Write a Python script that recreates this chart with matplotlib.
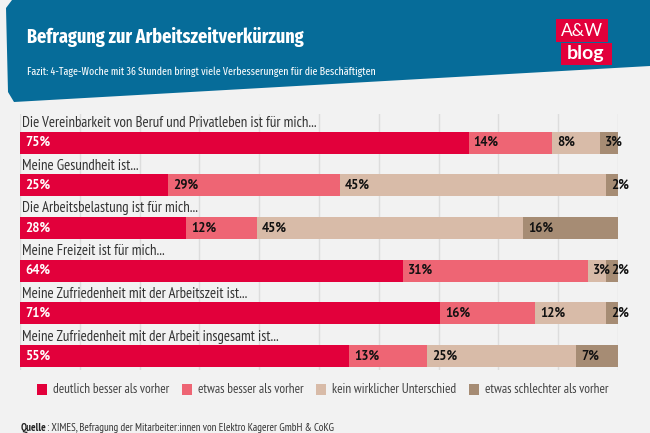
import matplotlib
matplotlib.use("Agg")
import matplotlib.pyplot as plt
from matplotlib import font_manager
from matplotlib.patches import Rectangle, Polygon
import numpy as np

questions = [
    "Die Vereinbarkeit von Beruf und Privatleben ist für mich...",
    "Meine Gesundheit ist...",
    "Die Arbeitsbelastung ist für mich...",
    "Meine Freizeit ist für mich...",
    "Meine Zufriedenheit mit der Arbeitszeit ist...",
    "Meine Zufriedenheit mit der Arbeit insgesamt ist...",
]
series_names = ["deutlich besser als vorher", "etwas besser als vorher",
                "kein wirklicher Unterschied", "etwas schlechter als vorher"]
deutlich_besser = [75, 25, 28, 64, 71, 55]
etwas_besser = [14, 29, 12, 31, 16, 13]
kein_unterschied = [8, 45, 45, 3, 12, 25]
etwas_schlechter = [3, 2, 16, 2, 2, 7]
colors = ["#e2003b", "#ee6574", "#d8bba8", "#a68c74"]
text_colors = ["white", "#111111", "#111111", "#111111"]

title = "Befragung zur Arbeitszeitverkürzung"
subtitle = "Fazit: 4-Tage-Woche mit 36 Stunden bringt viele Verbesserungen für die Beschäftigten"
source_bold = "Quelle"
source_rest = ": XIMES, Befragung der Mitarbeiter:innen von Elektro Kagerer GmbH & CoKG"

available = set(f.name for f in font_manager.fontManager.ttflist)

def pick(prefs):
    for p in prefs:
        if p in available:
            return [p, "DejaVu Sans"]
    return ["DejaVu Sans"]

head = pick(["Fira Sans Extra Condensed", "Fira Sans Condensed", "PT Sans Narrow"])
narrow = pick(["PT Sans Narrow", "Fira Sans Condensed", "PT Sans"])
body = pick(["PT Sans", "Lato"])
logo = pick(["Lato", "Open Sans"])

W, H = 650, 433
fig = plt.figure(figsize=(W / 100, H / 100), dpi=100)
fig.patch.set_facecolor("#f2f2f2")
renderer = fig.canvas.get_renderer()

def fx(px):
    return px / W

def fy(py):
    return 1 - py / H

def fit(t, target_px, lo=6, hi=24):
    s = t.get_fontsize()
    w = t.get_window_extent(renderer).width
    s2 = min(hi, max(lo, s * target_px / w))
    t.set_fontsize(s2)
    return s2

hdr = Polygon([(fx(12), fy(0)), (fx(650), fy(0)), (fx(650), fy(66)),
               (fx(14), fy(102)), (fx(8), fy(92)), (fx(6), fy(8))],
              closed=True, transform=fig.transFigure, facecolor="#066c99",
              edgecolor="none")
fig.patches.append(hdr)
tt = fig.text(fx(27), fy(37), title, color="white", fontsize=17, fontweight="bold",
              family=head, va="center", ha="left")
fit(tt, 278)
st = fig.text(fx(27), fy(72), subtitle, color="white", fontsize=10, family=head,
              va="center", ha="left")
fit(st, 350)
fig.patches.append(Rectangle((fx(556), fy(42)), fx(52), 23 / H, transform=fig.transFigure,
                             facecolor="#e2003b", edgecolor="none"))
fig.patches.append(Rectangle((fx(561), fy(65)), fx(51), 22 / H, transform=fig.transFigure,
                             facecolor="#e2003b", edgecolor="none"))
fig.text(fx(582), fy(30.5), "A&W", color="white", fontsize=12.5, family=logo,
         ha="center", va="center")
fig.text(fx(586), fy(53.5), "blog", color="white", fontsize=14, fontweight="bold",
         family=logo, ha="center", va="center")

top_px, bot_px = 114, 370
ax = fig.add_axes([fx(20), fy(bot_px), fx(598), (bot_px - top_px) / H])
ax.set_facecolor("none")
row_px = 42.7
y0 = (top_px - 142.5) / row_px
y1 = (bot_px - 142.5) / row_px
ax.set_ylim(y1, y0)
ax.set_xlim(0, 100)
for s in ax.spines.values():
    s.set_visible(False)
ax.set_xticks([])
ax.set_yticks([])
for g in range(0, 101, 10):
    ax.axvline(g, color="#dddddd", lw=1, zorder=0)

data = np.array([deutlich_besser, etwas_besser, kein_unterschied, etwas_schlechter], dtype=float)
totals = data.sum(axis=0)
norm = data / totals * 100
ypos = np.arange(len(questions))
left = np.zeros(len(questions))
bh = 22 / row_px
for k in range(4):
    ax.barh(ypos, norm[k], left=left, height=bh, color=colors[k], zorder=2,
            label=series_names[k])
    for i in range(len(questions)):
        ax.text(left[i] + 0.85, ypos[i], f"{int(data[k, i])}%", color=text_colors[k],
                fontsize=9.2, fontweight="bold", family=body, va="center", ha="left",
                zorder=3)
    left += norm[k]

qtexts = []
for i, q in enumerate(questions):
    qtexts.append(ax.text(0.4, ypos[i] - 19.5 / row_px, q, color="#333333", fontsize=10,
                          family=narrow, va="center", ha="left", zorder=3))
qs = fit(qtexts[0], 296)
for t in qtexts[1:]:
    t.set_fontsize(qs)

leg_x = [37, 182, 316, 469]
ltexts = []
for k in range(4):
    fig.patches.append(Rectangle((fx(leg_x[k]), fy(395)), fx(10), 11 / H,
                                 transform=fig.transFigure, facecolor=colors[k],
                                 edgecolor="none"))
    ltexts.append(fig.text(fx(leg_x[k] + 16), fy(389.5), series_names[k], color="#444444",
                           fontsize=9, family=narrow, va="center", ha="left"))
ls = fit(ltexts[0], 118)
for t in ltexts[1:]:
    t.set_fontsize(ls)

t = fig.text(fx(21), fy(428), source_bold, color="#222222", fontsize=7.8,
             fontweight="bold", family=narrow, va="center", ha="left")
fig.canvas.draw()
bb = t.get_window_extent()
fig.text(bb.x1 / W, fy(428), source_rest, color="#333333", fontsize=7.8, family=narrow,
         va="center", ha="left")

fig.savefig("out.png", dpi=100, facecolor=fig.get_facecolor())
